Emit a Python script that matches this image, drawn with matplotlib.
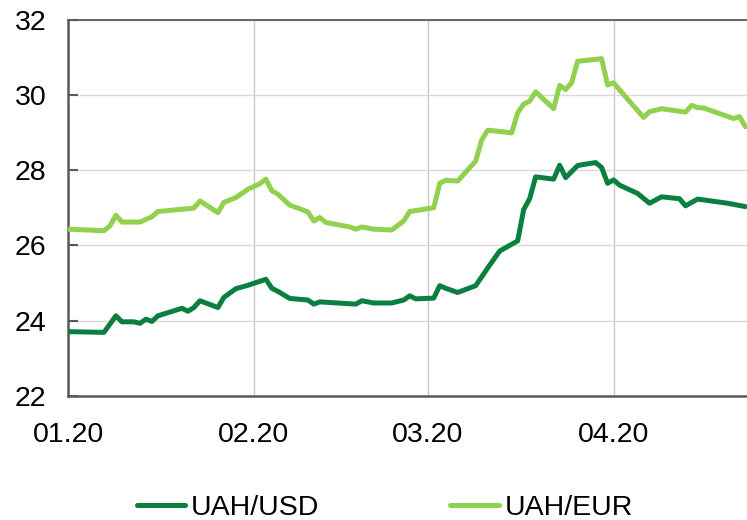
import matplotlib
matplotlib.use("Agg")
import matplotlib.pyplot as plt
import pandas as pd

plt.rcParams['font.family'] = ['Liberation Sans', 'DejaVu Sans']

# Day offsets from 2020-01-01 and values
usd_days = [0, 6, 8, 9, 11, 12, 13, 14, 15, 19, 20, 21, 22, 25, 26, 28, 30, 33, 34, 35, 37,
            40, 41, 42, 48, 49, 51, 54, 56, 57, 58, 61, 62, 63, 65, 68, 70, 72, 75, 76, 77, 78,
            81, 82, 83, 85, 86, 88, 89, 90, 91, 92, 95, 97, 99, 102, 103, 105, 110, 111, 113]
usd_vals = [23.71, 23.69, 24.13, 23.97, 23.97, 23.93, 24.04, 23.98, 24.13, 24.33, 24.25, 24.35,
            24.53, 24.35, 24.62, 24.85, 24.94, 25.10, 24.86, 24.78, 24.59,
            24.55, 24.44, 24.50, 24.44, 24.53, 24.47, 24.47, 24.55, 24.66, 24.58, 24.60, 24.93,
            24.86, 24.75, 24.93, 25.40, 25.85, 26.12, 26.95, 27.24, 27.82,
            27.76, 28.13, 27.80, 28.12, 28.15, 28.20, 28.07, 27.65, 27.74, 27.60, 27.38, 27.12,
            27.29, 27.24, 27.05, 27.23, 27.12, 27.09, 27.03]

eur_days = [0, 6, 7, 8, 9, 12, 13, 14, 15, 21, 22, 25, 26, 28, 30, 32, 33, 34, 35, 37,
            40, 41, 42, 43, 47, 48, 49, 51, 54, 56, 57, 61, 62, 63, 65, 68, 69, 70, 74, 75, 76,
            77, 78, 81, 82, 83, 84, 85, 88, 89, 90, 91, 92, 96, 97, 99, 103, 104, 105, 106,
            111, 112, 113]
eur_vals = [26.43, 26.39, 26.52, 26.80, 26.62, 26.62, 26.69, 26.76, 26.90, 26.99, 27.18, 26.87,
            27.14, 27.27, 27.49, 27.64, 27.76, 27.45, 27.36, 27.07,
            26.89, 26.65, 26.74, 26.61, 26.49, 26.43, 26.49, 26.43, 26.41, 26.65, 26.90, 27.00,
            27.65, 27.73, 27.71, 28.24, 28.80, 29.06, 28.99, 29.52, 29.75,
            29.83, 30.08, 29.63, 30.25, 30.14, 30.32, 30.89, 30.94, 30.96, 30.26, 30.32, 30.13,
            29.40, 29.55, 29.63, 29.54, 29.72, 29.66, 29.65, 29.37, 29.42, 29.15]

tick_labels = ['01.20', '02.20', '03.20', '04.20']
tick_dates = ['2020-01-01', '2020-02-01', '2020-03-01', '2020-04-01']
y_ticks = [22, 24, 26, 28, 30, 32]

start = pd.Timestamp('2020-01-01')
usd_dates = [start + pd.Timedelta(days=d) for d in usd_days]
eur_dates = [start + pd.Timedelta(days=d) for d in eur_days]

fig = plt.figure(figsize=(7.47, 5.2), dpi=100)
ax = fig.add_axes([68/747, 1 - 396/520, 1 - 68/747 + 0.002, (396 - 19.5)/520])

ax.plot(usd_dates, usd_vals, color='#0b7f40', lw=3.6, label='UAH/USD',
        solid_joinstyle='round', solid_capstyle='round', zorder=3)
ax.plot(eur_dates, eur_vals, color='#92d050', lw=3.6, label='UAH/EUR',
        solid_joinstyle='round', solid_capstyle='round', zorder=3)

ax.set_ylim(22, 32)
ax.set_yticks(y_ticks)
ax.set_xlim(start, start + pd.Timedelta(days=113.5))
ax.set_xticks([pd.Timestamp(d) for d in tick_dates])
ax.set_xticklabels(tick_labels)

ax.grid(axis='y', color='#d9d9d9', lw=1.0, zorder=0)
ax.grid(axis='x', color='#c8c8c8', lw=1.0, zorder=0)
ax.set_axisbelow(True)

for s in ['left', 'bottom']:
    ax.spines[s].set_color('#595959')
    ax.spines[s].set_linewidth(1.8)
ax.spines['top'].set_color('#595959')
ax.spines['top'].set_linewidth(1.3)
ax.spines['right'].set_visible(False)

ax.tick_params(axis='y', direction='in', length=7, width=1.5, color='#595959',
               labelsize=20.5, pad=15.5, labelcolor='black')
ax.tick_params(axis='x', length=0, labelsize=20.5, pad=19, labelcolor='black')

fig.legend(loc='center', bbox_to_anchor=(385/747, 1 - 508/520), ncol=2, frameon=False,
           fontsize=20.5, handlelength=1.7, handletextpad=0.2, columnspacing=4.6)

fig.savefig('out.png', dpi=100)
